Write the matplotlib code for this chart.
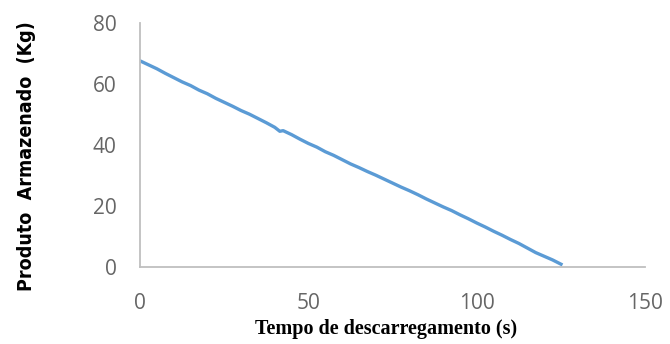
import matplotlib.pyplot as plt

# Discharge curve
tempo_s = [0, 2.5, 5, 7.5, 10, 12.5, 15, 17.5, 20, 22.5, 25, 27.5, 30, 32.5, 35,
           37.5, 40, 41.5, 42.5, 45, 47.5, 50, 52.5, 55, 57.5, 60, 62.5, 65, 67.5,
           70, 72.5, 75, 77.5, 80, 82.5, 85, 87.5, 90, 92.5, 95, 97.5, 100, 102.5,
           105, 107.5, 110, 112.5, 115, 117.5, 120, 122.5, 125]
produto_kg = [67.6, 66.3, 65.0, 63.5, 62.1, 60.7, 59.5, 58.0, 56.8, 55.3, 54.0,
              52.7, 51.3, 50.1, 48.7, 47.3, 45.8, 44.5, 44.7, 43.4, 41.9, 40.5,
              39.3, 37.8, 36.6, 35.2, 33.8, 32.6, 31.3, 30.1, 28.8, 27.5, 26.2,
              25.0, 23.7, 22.3, 21.0, 19.7, 18.5, 17.1, 15.8, 14.4, 13.1, 11.7,
              10.4, 9.0, 7.7, 6.2, 4.7, 3.5, 2.3, 0.9]

x_ticks = [0, 50, 100, 150]
y_ticks = [0, 20, 40, 60, 80]

fig = plt.figure(figsize=(6.7, 3.44), dpi=100)
ax = fig.add_axes([0.209, 0.224, 0.754, 0.709])

ax.plot(tempo_s, produto_kg, color='#5B9BD5', linewidth=2.4)

ax.set_xlim(0, 150)
ax.set_ylim(0, 80)
ax.set_xticks(x_ticks)
ax.set_yticks(y_ticks)

for side in ['top', 'right']:
    ax.spines[side].set_visible(False)
for side in ['left', 'bottom']:
    ax.spines[side].set_color('#BFBFBF')
    ax.spines[side].set_linewidth(1.3)

ax.tick_params(length=0, labelsize=15, labelcolor='#666666')
ax.tick_params(axis='x', pad=19)
ax.tick_params(axis='y', pad=17)
for lbl in ax.get_xticklabels() + ax.get_yticklabels():
    lbl.set_family('Open Sans')

ax.set_xlabel('Tempo de descarregamento (s)', family=['Liberation Serif', 'DejaVu Serif'],
              fontweight='bold', fontsize=14.5)
ax.xaxis.set_label_coords(0.487, -0.215)
ax.set_ylabel('Produto  Armazenado  (Kg)', family='DejaVu Sans', stretch='condensed',
              fontweight='bold', fontsize=14)
ax.yaxis.set_label_coords(-0.206, 0.455)

fig.savefig('out.png', dpi=100)
